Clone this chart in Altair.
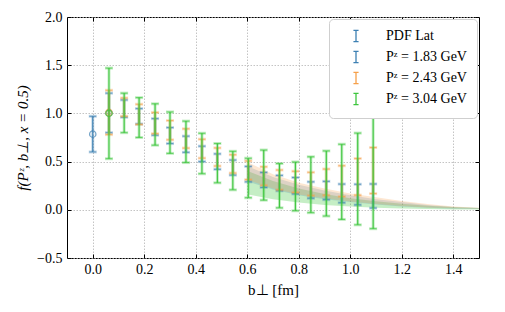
import altair as alt
import pandas as pd

# ---------------- data ----------------
b_vals = [0.063, 0.122, 0.180, 0.242, 0.300, 0.362, 0.424, 0.484, 0.544,
          0.604, 0.664, 0.725, 0.787, 0.847, 0.907, 0.967, 1.029, 1.089]

f_183 = [1.005, 1.050, 0.970, 0.860, 0.770, 0.680, 0.580, 0.500, 0.438,
         0.370, 0.310, 0.277, 0.250, 0.205, 0.200, 0.170, 0.158, 0.143]
e_183 = [0.205, 0.090, 0.080, 0.086, 0.083, 0.084, 0.080, 0.080, 0.078,
         0.080, 0.078, 0.080, 0.085, 0.085, 0.095, 0.097, 0.107, 0.125]

f_243 = [1.010, 1.065, 0.990, 0.900, 0.826, 0.740, 0.634, 0.548, 0.476,
         0.410, 0.350, 0.310, 0.290, 0.268, 0.287, 0.297, 0.342, 0.407]
e_243 = [0.230, 0.095, 0.105, 0.110, 0.100, 0.100, 0.098, 0.094, 0.095,
         0.097, 0.096, 0.103, 0.110, 0.121, 0.136, 0.160, 0.190, 0.239]

f_304 = [1.000, 1.005, 0.957, 0.885, 0.800, 0.705, 0.584, 0.484, 0.407,
         0.330, 0.360, 0.250, 0.243, 0.260, 0.273, 0.290, 0.320, 0.383]
e_304 = [0.470, 0.205, 0.207, 0.215, 0.215, 0.215, 0.210, 0.204, 0.200,
         0.205, 0.260, 0.230, 0.253, 0.290, 0.338, 0.390, 0.476, 0.579]

pdf_b = [0.0]
pdf_f = [0.785]
pdf_e = [0.185]

band_b = [0.604, 0.7, 0.8, 0.9, 1.0, 1.1, 1.2, 1.3, 1.4, 1.5]
band_183_lo = [0.290, 0.210, 0.150, 0.110, 0.080, 0.055, 0.035, 0.022, 0.012, 0.008]
band_183_hi = [0.450, 0.340, 0.260, 0.200, 0.150, 0.110, 0.080, 0.050, 0.030, 0.018]
band_243_lo = [0.310, 0.220, 0.160, 0.120, 0.085, 0.060, 0.040, 0.025, 0.015, 0.010]
band_243_hi = [0.490, 0.370, 0.280, 0.220, 0.170, 0.130, 0.090, 0.060, 0.035, 0.020]
band_304_lo = [0.160, 0.110, 0.075, 0.050, 0.035, 0.022, 0.013, 0.008, 0.004, 0.002]
band_304_hi = [0.400, 0.300, 0.220, 0.165, 0.120, 0.088, 0.062, 0.042, 0.028, 0.018]

series_names = ["PDF Lat", "Pᶻ = 1.83 GeV", "Pᶻ = 2.43 GeV", "Pᶻ = 3.04 GeV"]
series_colors = ["#3d80b3", "#3d80b3", "#f6a04a", "#3ec63e"]

x_ticks = [0.0, 0.2, 0.4, 0.6, 0.8, 1.0, 1.2, 1.4]
y_ticks = [-0.5, 0.0, 0.5, 1.0, 1.5, 2.0]

FONT = "Liberation Serif"

# ---------------- tables ----------------
def bars(name, bs, fs, es):
    return pd.DataFrame({"series": name, "b": bs, "f": fs,
                         "lo": [f - e for f, e in zip(fs, es)],
                         "hi": [f + e for f, e in zip(fs, es)]})

bar_tables = [
    bars(series_names[0], pdf_b, pdf_f, pdf_e),
    bars(series_names[1], b_vals, f_183, e_183),
    bars(series_names[2], b_vals, f_243, e_243),
    bars(series_names[3], b_vals, f_304, e_304),
]

bands = [
    (pd.DataFrame({"b": band_b, "lo": band_304_lo, "hi": band_304_hi}), "#3ec63e", 0.30),
    (pd.DataFrame({"b": band_b, "lo": band_183_lo, "hi": band_183_hi}), "#3d80b3", 0.22),
    (pd.DataFrame({"b": band_b, "lo": band_243_lo, "hi": band_243_hi}), "#f6a04a", 0.25),
]

xs = alt.Scale(domain=[-0.1, 1.5], nice=False, zero=False)
ys = alt.Scale(domain=[-0.5, 2.0], nice=False, zero=False)
cs = alt.Scale(domain=series_names, range=series_colors)

legend = alt.Legend(title=None,
                    symbolType="M0,-1L0,1M-0.45,-1L0.45,-1M-0.45,1L0.45,1",
                    symbolSize=130, symbolStrokeWidth=1.3, symbolOpacity=1)

# axes
grid_x = alt.Axis(grid=True, labels=False, ticks=False, domain=False, title=None,
                  values=x_ticks, gridColor="#b5b5b5", gridDash=[1.5, 1.5], gridWidth=0.8)
grid_y = alt.Axis(grid=True, labels=False, ticks=False, domain=False, title=None,
                  values=y_ticks, gridColor="#b5b5b5", gridDash=[1.5, 1.5], gridWidth=0.8)
lab_x = alt.Axis(orient="bottom", values=x_ticks, format=".1f", grid=False, domain=False,
                 offset=-4, tickSize=4, tickColor="black", tickWidth=1,
                 labelPadding=4, labelFont=FONT, labelFontSize=14, labelColor="black",
                 title="b⊥ [fm]", titleFont=FONT, titleFontSize=15,
                 titleFontWeight="normal", titleColor="black", titlePadding=6)
lab_y = alt.Axis(orient="left", values=y_ticks, format=".1f", grid=False, domain=False,
                 offset=-4, tickSize=4, tickColor="black", tickWidth=1,
                 labelPadding=5, labelFont=FONT, labelFontSize=14, labelColor="black",
                 title="f(Pᶻ, b⊥, x = 0.5)", titleFont=FONT, titleFontSize=15,
                 titleFontStyle="italic", titleFontWeight="normal", titleColor="black",
                 titlePadding=6)
top_x = alt.Axis(orient="top", values=x_ticks, grid=False, domain=False, labels=False,
                 offset=-4, tickSize=4, tickColor="black", tickWidth=1, title=None)
right_y = alt.Axis(orient="right", values=y_ticks, grid=False, domain=False, labels=False,
                   offset=-4, tickSize=4, tickColor="black", tickWidth=1, title=None)
axis_sets = [(grid_x, grid_y), (lab_x, lab_y), (top_x, right_y)]

layers = []
for (tbl, col, op), (ax_x, ax_y) in zip(bands, axis_sets):
    layers.append(
        alt.Chart(tbl).mark_area(color=col, opacity=op).encode(
            x=alt.X("b:Q", scale=xs, axis=ax_x),
            y=alt.Y("lo:Q", scale=ys, axis=ax_y),
            y2="hi:Q",
        )
    )

for tbl in bar_tables:
    base = alt.Chart(tbl)
    col = alt.Color("series:N", scale=cs, legend=legend)
    x = alt.X("b:Q", scale=xs, axis=None)
    # halo
    layers.append(base.mark_rule(strokeWidth=3, opacity=0.3).encode(
        x=x, y=alt.Y("lo:Q", scale=ys, axis=None), y2="hi:Q", color=col))
    layers.append(base.mark_tick(orient="horizontal", size=8, thickness=3, opacity=0.3).encode(
        x=x, y=alt.Y("lo:Q", scale=ys, axis=None), color=col))
    layers.append(base.mark_tick(orient="horizontal", size=8, thickness=3, opacity=0.3).encode(
        x=x, y=alt.Y("hi:Q", scale=ys, axis=None), color=col))
    # core
    layers.append(base.mark_rule(strokeWidth=1.1).encode(
        x=x, y=alt.Y("lo:Q", scale=ys, axis=None), y2="hi:Q", color=col))
    layers.append(base.mark_tick(orient="horizontal", size=7, thickness=1.1).encode(
        x=x, y=alt.Y("lo:Q", scale=ys, axis=None), color=col))
    layers.append(base.mark_tick(orient="horizontal", size=7, thickness=1.1).encode(
        x=x, y=alt.Y("hi:Q", scale=ys, axis=None), color=col))
    # open circle for the first point of each series
    layers.append(alt.Chart(tbl.head(1)).mark_point(shape="circle", filled=False, size=40,
                                                    strokeWidth=1.3).encode(
        x=x, y=alt.Y("f:Q", scale=ys, axis=None), color=col))

chart = alt.layer(*layers).resolve_axis(x="independent", y="independent").properties(
    width=412, height=241,
    autosize=alt.AutoSizeParams(type="none"),
    padding={"left": 59, "top": 9, "right": 18, "bottom": 46},
).configure_view(stroke="black", strokeWidth=1).configure_legend(
    orient="top-right", offset=2, fillColor="white", strokeColor="#cfcfcf",
    strokeWidth=1, cornerRadius=4, padding=10, labelFont=FONT, labelFontSize=14,
    labelColor="black", rowPadding=3, labelOffset=23, symbolOffset=10, symbolOpacity=1,
)

chart.save("out.html", embed_options={"renderer": "svg", "actions": False})
